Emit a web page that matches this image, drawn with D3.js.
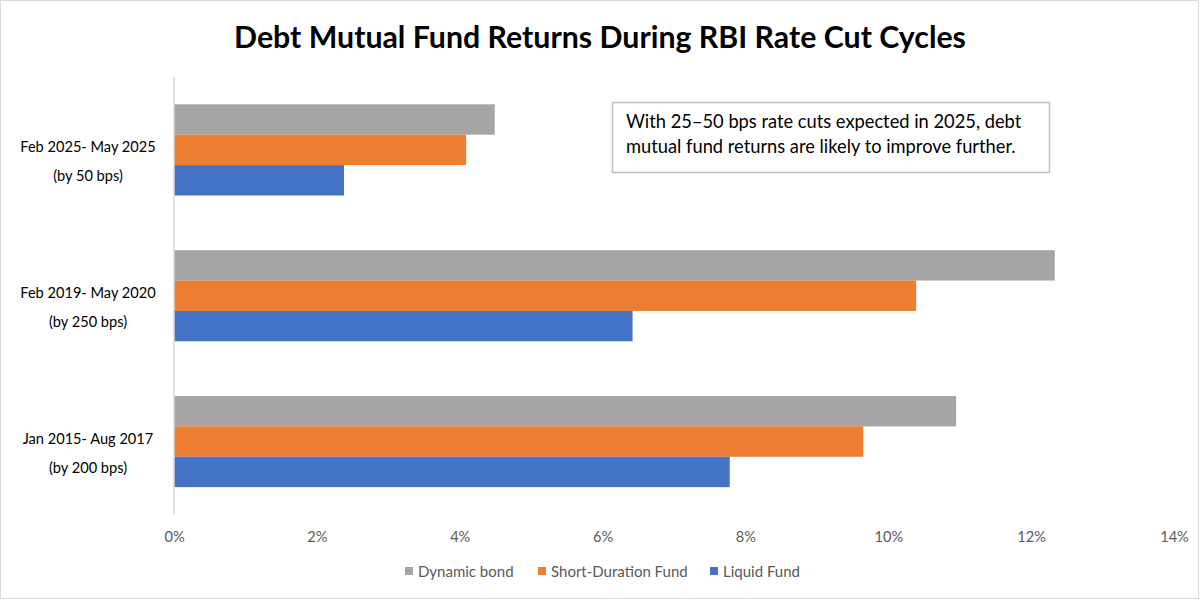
<!DOCTYPE html>
<html><head><meta charset="utf-8">
<script src="https://cdn.jsdelivr.net/npm/d3@7"></script>
<style>
html,body{margin:0;padding:0;background:#fff;}
svg{display:block;font-family:Lato,"Open Sans",sans-serif;}
</style></head>
<body><svg id="chart" width="1200" height="600"></svg>
<script>
const title = "Debt Mutual Fund Returns During RBI Rate Cut Cycles";
const categories = ["Feb 2025- May 2025|(by 50 bps)", "Feb 2019- May 2020|(by 250 bps)", "Jan 2015- Aug 2017|(by 200 bps)"];
const seriesNames = ["Dynamic bond", "Short-Duration Fund", "Liquid Fund"];
const dynamicBond = [4.49, 12.33, 10.95];
const shortDuration = [4.09, 10.39, 9.65];
const liquidFund = [2.38, 6.42, 7.78];
const xTicks = [0, 2, 4, 6, 8, 10, 12, 14];
const colors = ["#A5A5A5", "#ED7D31", "#4472C4"];
const note = ["With 25\u201350 bps rate cuts expected in 2025, debt", "mutual fund returns are likely to improve further."];

const series = [dynamicBond, shortDuration, liquidFund];
const svg = d3.select("#chart");

svg.append("rect").attr("x",0.5).attr("y",0.5).attr("width",1198).attr("height",598)
  .attr("fill","#fff").attr("stroke","#D9D9D9");

svg.append("text").attr("x",600).attr("y",48).attr("text-anchor","middle")
  .attr("font-size",30.3).attr("font-weight","bold").attr("fill","#000").text(title);

const x = d3.scaleLinear().domain([0,14]).range([174,1174]);
const y = d3.scaleBand().domain(categories).range([77,514.5]).paddingInner(0.375).paddingOuter(0.1875);
const ySub = d3.scaleBand().domain(seriesNames).range([0,y.bandwidth()]);

// bars
categories.forEach((c,ci)=>{
  seriesNames.forEach((s,si)=>{
    svg.append("rect").attr("x",x(0)).attr("y",y(c)+ySub(s))
      .attr("width",x(series[si][ci])-x(0)).attr("height",ySub.bandwidth())
      .attr("fill",colors[si]);
  });
});

// axis line
svg.append("line").attr("x1",x(0)).attr("x2",x(0)).attr("y1",77).attr("y2",514.5)
  .attr("stroke","#D9D9D9").attr("stroke-width",1.5);

// x ticks
const xAxis = d3.axisBottom(x).tickValues(xTicks).tickFormat(d=>d+"%").tickSize(0).tickPadding(0);
const gx = svg.append("g").attr("transform","translate(0,541.5)").call(xAxis);
gx.select(".domain").remove();
gx.selectAll("text").attr("font-size",14.6).attr("fill","#595959").attr("font-family","Lato,sans-serif").attr("dy","0");

// y labels
categories.forEach(c=>{
  const [l1,l2] = c.split("|");
  const cy = y(c)+y.bandwidth()/2;
  const t = svg.append("text").attr("text-anchor","middle").attr("font-size",14.6).attr("fill","#000");
  t.append("tspan").attr("x",88).attr("y",cy+2).text(l1);
  t.append("tspan").attr("x",88).attr("y",cy+31).text(l2);
});

// note box
svg.append("rect").attr("x",612.5).attr("y",102.5).attr("width",437).attr("height",70)
  .attr("fill","#fff").attr("stroke","#BFBFBF").attr("stroke-width",1.5);
note.forEach((line,i)=>{
  svg.append("text").attr("x",626).attr("y",128+i*25).attr("font-size",18.3).attr("fill","#000").text(line);
});

// legend
const legendX = [405, 538, 710];
seriesNames.forEach((s,i)=>{
  svg.append("rect").attr("x",legendX[i]).attr("y",567).attr("width",8).attr("height",8).attr("fill",colors[i]);
  svg.append("text").attr("x",legendX[i]+13).attr("y",577).attr("font-size",15).attr("fill","#595959").text(s);
});
</script>
</body></html>
